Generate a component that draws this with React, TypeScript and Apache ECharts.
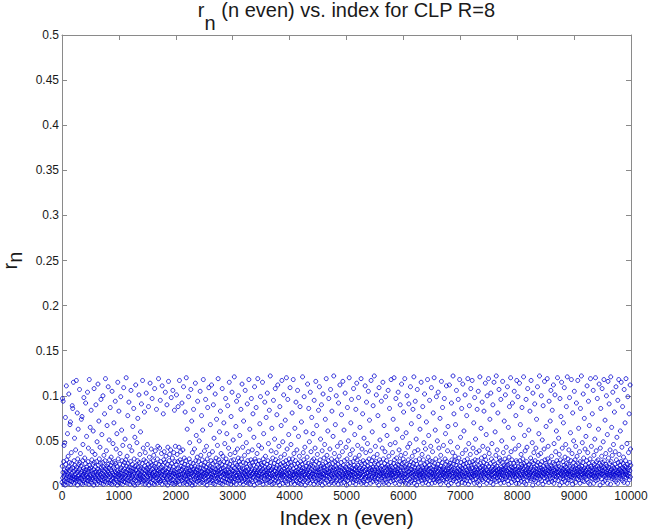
import React, { useEffect, useRef } from "react";
import * as echarts from "echarts";

// r_n values (in units of 0.001) for even indices n, step N_STEP, per 2000-wide segment
const N_STEP = 4;
const SEG_WIDTH = 2000;

const rSeg0 = [
  4, 22, 97, 9, 15, 94, 2, 27, 11, 45, 6, 18, 48, 13, 1, 76, 24, 8, 16, 111, 5, 29, 12, 19, 58,
  7, 14, 33, 3, 21, 102, 10, 17, 26, 6, 68, 12, 71, 2, 19, 9, 37, 25, 5, 14, 89, 11, 86, 20, 8,
  115, 3, 16, 28, 10, 53, 7, 23, 13, 4, 40, 18, 9, 117, 21, 6, 15, 81, 1, 30, 11, 63, 17, 8, 24,
  12, 5, 107, 19, 26, 9, 36, 14, 3, 22, 74, 8, 16, 77, 11, 2, 28, 46, 13, 20, 6, 98, 10, 17, 4,
  31, 15, 7, 25, 92, 12, 18, 3, 55, 21, 9, 14, 104, 6, 27, 10, 42, 16, 2, 19, 118, 8, 23, 13, 65,
  5, 20, 11, 84, 17, 3, 29, 7, 38, 14, 24, 9, 61, 12, 1, 18, 108, 26, 6, 15, 35, 10, 21, 4, 90,
  16, 8, 27, 13, 49, 2, 19, 11, 113, 6, 23, 15, 72, 9, 30, 4, 17, 43, 12, 25, 7, 96, 14, 20, 3,
  57, 10, 18, 6, 26, 100, 13, 2, 21, 34, 8, 16, 80, 11, 28, 5, 119, 19, 9, 14, 39, 22, 3, 67, 12,
  17, 7, 24, 110, 15, 4, 20, 51, 10, 29, 13, 3, 87, 18, 6, 23, 32, 11, 16, 2, 105, 26, 8, 14, 47,
  9, 21, 5, 70, 12, 19, 27, 3, 16, 94, 8, 25, 11, 41, 14, 6, 58, 22, 1, 17, 115, 10, 30, 13, 4,
  83, 15, 7, 24, 12, 36, 18, 3, 99, 9, 20, 14, 62, 6, 28, 11, 2, 45, 17, 23, 8, 109, 13, 5, 26,
  19, 10, 52, 4, 16, 29, 12, 120, 7, 22, 15, 33, 3, 18, 78, 9, 25, 13, 6, 93, 21, 11, 44, 2, 17,
  14, 27, 8, 106, 20, 5, 12, 39, 16, 24, 10, 66, 3, 19, 13, 86, 7, 30, 15, 1, 54, 22, 9, 18, 112,
  6, 17, 23, 11, 48, 14, 2, 28, 75, 9, 21, 15, 4, 101, 12, 26, 7, 35, 18, 10, 60, 13, 20, 5, 91,
  16, 8, 25, 3, 117, 11, 19, 42, 6, 14, 29, 9, 82, 22, 13, 2, 37, 17, 27, 7, 103, 12, 4, 20, 15,
  46, 10, 18, 6, 24, 88, 13, 1, 21, 32, 15, 8, 114, 11, 26, 4, 17, 41, 9, 23, 14, 97, 3, 19, 12,
  28, 7, 15, 34, 10, 22, 2, 108, 16, 12, 39, 5, 20, 25, 9, 85, 14, 18, 3, 30, 11, 44, 6, 17, 119,
  13, 24, 8, 19, 42, 4, 15, 95, 11, 27, 6, 21, 36, 13, 2, 111, 17, 9, 23, 16, 80, 7, 29, 12, 38,
  5, 18, 11, 26, 104, 14, 3, 33, 20, 8, 16, 90, 10, 24, 1, 43, 15, 7, 116, 19, 12, 28, 4, 35, 14,
  22, 9, 40, 16, 6, 98, 12, 25, 3, 18, 31, 11, 106, 7, 21, 14, 37, 2, 17, 84, 10, 27, 13, 44, 5,
];

const rSeg1 = [
  15, 3, 24, 101, 11, 19, 35, 7, 14, 27, 88, 5, 20, 12, 43, 9, 117, 16, 2, 29, 13, 38, 8, 22, 17,
  10, 26, 92, 6, 18, 13, 40, 3, 21, 110, 15, 9, 31, 12, 24, 4, 82, 17, 11, 28, 7, 120, 14, 19, 2,
  63, 16, 8, 23, 12, 5, 99, 20, 14, 30, 10, 48, 3, 17, 26, 9, 107, 13, 21, 6, 72, 15, 1, 37, 18,
  11, 25, 4, 85, 19, 13, 7, 41, 16, 22, 2, 114, 10, 28, 15, 56, 8, 18, 12, 32, 5, 94, 21, 14, 9,
  27, 17, 6, 50, 12, 3, 20, 105, 15, 9, 34, 24, 11, 78, 16, 4, 29, 13, 62, 7, 19, 118, 10, 23, 14,
  3, 39, 18, 12, 26, 8, 96, 15, 21, 5, 44, 13, 1, 30, 17, 87, 10, 24, 6, 16, 109, 11, 35, 19, 7,
  22, 13, 68, 4, 17, 28, 10, 112, 14, 6, 20, 38, 12, 25, 3, 90, 16, 9, 53, 19, 11, 27, 2, 102, 15,
  8, 18, 31, 12, 74, 5, 23, 14, 45, 9, 16, 119, 21, 7, 29, 13, 4, 60, 18, 26, 10, 83, 15, 3, 36,
  19, 11, 24, 6, 108, 16, 2, 33, 13, 20, 9, 70, 27, 14, 5, 47, 17, 22, 12, 97, 8, 30, 15, 4, 58,
  13, 26, 7, 89, 18, 11, 3, 42, 21, 15, 115, 6, 24, 12, 35, 9, 19, 2, 77, 28, 14, 8, 104, 17, 22,
  5, 16, 51, 10, 29, 13, 4, 121, 20, 8, 37, 15, 25, 11, 66, 2, 18, 94, 12, 23, 7, 41, 16, 9, 31,
  100, 14, 21, 6, 27, 12, 56, 18, 3, 24, 10, 85, 16, 30, 8, 13, 113, 5, 19, 43, 11, 26, 2, 72, 15,
  9, 20, 34, 14, 7, 106, 17, 12, 25, 4, 48, 21, 10, 16, 91, 6, 28, 13, 38, 3, 18, 118, 11, 24, 8,
  63, 15, 2, 22, 11, 29, 17, 97, 7, 19, 13, 40, 26, 5, 80, 14, 10, 23, 54, 16, 1, 110, 12, 30, 18,
  6, 27, 14, 87, 9, 21, 16, 36, 3, 12, 119, 24, 8, 18, 45, 11, 28, 15, 4, 69, 20, 13, 99, 7, 25,
  17, 10, 42, 5, 23, 13, 115, 19, 2, 30, 15, 58, 11, 26, 8, 16, 93, 21, 12, 33, 6, 18, 76, 14, 3,
  24, 12, 103, 16, 7, 28, 20, 47, 10, 14, 4, 84, 22, 17, 9, 122, 13, 26, 5, 39, 18, 11, 64, 2, 19,
  14, 31, 8, 21, 95, 12, 3, 25, 17, 52, 10, 16, 108, 6, 29, 13, 37, 20, 9, 79, 15, 23, 4, 112, 11,
  27, 5, 18, 44, 13, 20, 1, 88, 15, 9, 24, 32, 12, 67, 17, 7, 117, 14, 22, 10, 49, 3, 26, 16, 101,
  12, 19, 6, 35, 23, 11, 73, 16, 4, 28, 14, 120, 9, 21, 41, 13, 2, 96, 18, 25, 8, 57, 15, 30, 10,
];

const rSeg2 = [
  20, 7, 109, 14, 26, 11, 46, 3, 17, 23, 9, 81, 15, 30, 5, 12, 118, 19, 8, 36, 13, 24, 2, 64, 16,
  10, 28, 14, 93, 6, 21, 17, 40, 12, 4, 106, 25, 9, 15, 55, 19, 11, 3, 33, 22, 13, 88, 7, 27, 16,
  2, 18, 71, 11, 24, 14, 8, 121, 20, 5, 37, 16, 29, 12, 99, 7, 19, 43, 13, 1, 26, 10, 60, 17, 22,
  15, 9, 32, 4, 113, 18, 12, 25, 6, 86, 14, 21, 49, 10, 16, 3, 104, 23, 11, 38, 8, 19, 76, 13, 28,
  6, 22, 14, 58, 17, 10, 30, 2, 95, 13, 24, 8, 42, 16, 19, 116, 5, 27, 12, 67, 15, 9, 35, 20, 3,
  18, 12, 84, 7, 25, 15, 110, 11, 4, 29, 19, 52, 13, 22, 6, 90, 16, 10, 39, 1, 24, 14, 102, 8, 21,
  13, 31, 9, 17, 46, 20, 3, 74, 12, 26, 15, 119, 7, 18, 34, 11, 23, 5, 61, 14, 28, 16, 97, 10, 2,
  24, 16, 41, 8, 19, 107, 13, 21, 4, 30, 11, 83, 17, 6, 25, 14, 55, 9, 20, 122, 12, 3, 36, 18, 27,
  10, 68, 15, 22, 5, 100, 19, 13, 29, 7, 44, 16, 12, 24, 2, 92, 18, 11, 33, 14, 9, 112, 21, 6, 48,
  17, 26, 3, 79, 12, 20, 8, 38, 15, 116, 10, 23, 13, 4, 62, 18, 28, 9, 16, 103, 7, 21, 14, 43, 11,
  1, 19, 30, 13, 87, 6, 24, 15, 50, 11, 18, 9, 120, 22, 14, 3, 35, 26, 12, 70, 17, 8, 96, 20, 15,
  9, 40, 16, 12, 27, 4, 108, 19, 7, 23, 14, 57, 10, 31, 18, 2, 85, 13, 21, 6, 114, 16, 29, 11, 45,
  23, 14, 7, 98, 18, 11, 34, 5, 20, 65, 13, 26, 9, 17, 119, 3, 24, 15, 41, 10, 19, 80, 12, 28, 6,
  16, 4, 53, 21, 13, 25, 8, 111, 17, 10, 37, 19, 2, 93, 14, 27, 11, 47, 6, 22, 15, 105, 9, 18, 30,
  12, 73, 7, 20, 16, 39, 3, 24, 117, 14, 9, 28, 18, 60, 11, 5, 21, 89, 15, 32, 13, 8, 122, 19, 25,
  10, 17, 44, 6, 27, 13, 101, 21, 4, 15, 35, 12, 19, 78, 8, 24, 16, 1, 109, 11, 29, 14, 51, 20, 7,
  26, 13, 18, 94, 9, 22, 15, 42, 5, 17, 115, 11, 30, 14, 3, 67, 20, 10, 25, 38, 16, 7, 99, 12, 21,
  4, 28, 14, 56, 19, 11, 23, 8, 106, 16, 2, 33, 21, 13, 86, 9, 18, 46, 15, 26, 5, 118, 12, 22, 17,
  14, 9, 37, 20, 12, 74, 6, 25, 16, 120, 10, 29, 18, 3, 48, 14, 22, 97, 11, 7, 31, 17, 63, 13, 24,
  19, 15, 104, 8, 23, 13, 40, 2, 18, 27, 11, 90, 16, 5, 34, 21, 12, 113, 9, 25, 14, 54, 6, 20, 30,
];

const rSeg3 = [
  11, 82, 17, 5, 26, 14, 119, 9, 21, 36, 13, 3, 59, 18, 24, 10, 100, 15, 7, 43, 20, 12, 29, 2, 91,
  16, 23, 8, 47, 13, 19, 110, 4, 27, 14, 69, 11, 18, 6, 33, 22, 15, 85, 9, 25, 12, 121, 17, 3, 38,
  20, 7, 94, 14, 28, 10, 52, 16, 1, 24, 13, 107, 19, 8, 40, 15, 21, 5, 77, 12, 30, 17, 11, 63, 9,
  25, 13, 18, 115, 6, 22, 16, 35, 11, 3, 88, 20, 14, 29, 9, 48, 17, 12, 102, 7, 24, 15, 41, 4, 19,
  10, 71, 21, 14, 26, 8, 118, 17, 12, 32, 2, 56, 19, 23, 13, 95, 6, 28, 16, 11, 44, 20, 9, 109, 15,
  3, 27, 13, 38, 18, 10, 81, 22, 15, 7, 120, 12, 25, 17, 4, 62, 14, 30, 9, 19, 99, 11, 21, 6, 50,
  16, 24, 8, 104, 13, 20, 42, 5, 18, 28, 11, 75, 15, 2, 34, 22, 12, 116, 17, 9, 26, 14, 87, 7, 19,
  12, 45, 21, 15, 6, 97, 18, 10, 30, 13, 58, 24, 4, 17, 111, 11, 27, 14, 8, 39, 19, 66, 16, 1, 23,
  14, 9, 112, 20, 12, 25, 7, 49, 16, 22, 3, 92, 13, 29, 18, 10, 37, 15, 122, 6, 24, 11, 80, 17, 28,
  8, 19, 33, 14, 68, 11, 23, 5, 106, 16, 13, 27, 9, 43, 20, 2, 96, 15, 12, 31, 18, 7, 118, 22, 10,
  17, 54, 13, 26, 8, 20, 86, 15, 4, 36, 12, 113, 19, 10, 24, 16, 61, 7, 28, 14, 3, 101, 21, 11, 40,
  25, 14, 6, 78, 18, 12, 30, 9, 119, 16, 22, 2, 47, 13, 19, 89, 11, 26, 5, 35, 17, 108, 10, 23, 15,
  9, 20, 117, 13, 27, 7, 42, 16, 11, 70, 24, 14, 3, 98, 18, 29, 12, 52, 8, 21, 15, 37, 19, 4, 85,
  13, 28, 10, 18, 105, 6, 23, 15, 39, 12, 1, 121, 20, 9, 25, 16, 64, 11, 31, 17, 7, 93, 14, 22, 44,
  19, 5, 26, 12, 83, 16, 10, 33, 21, 14, 114, 8, 29, 13, 57, 18, 3, 24, 100, 11, 17, 41, 15, 6, 119,
  22, 11, 36, 17, 9, 74, 14, 25, 4, 103, 19, 12, 30, 16, 47, 8, 21, 13, 90, 2, 27, 18, 10, 115, 15,
  7, 24, 14, 60, 20, 11, 34, 17, 122, 5, 22, 13, 40, 9, 18, 81, 15, 26, 12, 6, 107, 19, 31, 10, 16,
  28, 13, 3, 96, 18, 21, 9, 50, 15, 12, 26, 116, 7, 19, 37, 14, 23, 4, 72, 17, 11, 30, 20, 101, 8,
  15, 22, 43, 10, 17, 27, 13, 110, 6, 24, 16, 65, 11, 2, 32, 19, 88, 14, 9, 25, 18, 120, 12, 38, 21,
  4, 17, 29, 14, 92, 11, 20, 8, 53, 16, 25, 13, 105, 6, 22, 18, 41, 10, 15, 78, 3, 28, 12, 117, 19,
];

const rSeg4 = [
  13, 26, 7, 99, 16, 21, 11, 45, 18, 3, 114, 14, 28, 9, 68, 20, 12, 35, 5, 24, 17, 87, 10, 22, 15,
  30, 8, 19, 121, 13, 25, 4, 56, 16, 11, 39, 22, 14, 2, 96, 18, 27, 10, 43, 15, 6, 108, 20, 12, 23,
  17, 62, 9, 24, 15, 12, 83, 19, 6, 31, 14, 117, 21, 8, 27, 16, 48, 11, 1, 103, 13, 25, 18, 37, 7,
  21, 14, 91, 10, 28, 16, 5, 42, 19, 13, 74, 23, 9, 15, 110, 12, 26, 3, 34, 18, 58, 11, 20, 122, 14,
  8, 24, 17, 36, 12, 20, 100, 6, 27, 15, 51, 11, 18, 2, 89, 14, 22, 13, 41, 9, 116, 19, 29, 16, 5,
  25, 12, 66, 18, 10, 23, 14, 119, 7, 30, 17, 44, 13, 21, 4, 94, 16, 11, 27, 19, 72, 8, 15, 106, 22,
  13, 33, 5, 20, 84, 16, 9, 26, 12, 112, 18, 3, 47, 14, 24, 11, 101, 17, 7, 38, 21, 15, 61, 10, 28,
  19, 16, 120, 12, 6, 25, 15, 53, 22, 11, 35, 17, 1, 97, 14, 29, 9, 77, 20, 13, 115, 16, 4, 42, 18,
  11, 27, 8, 70, 19, 14, 23, 109, 12, 5, 32, 17, 21, 46, 10, 15, 88, 25, 13, 3, 121, 18, 9, 30, 16,
  24, 14, 40, 7, 17, 98, 11, 22, 16, 59, 13, 28, 6, 118, 19, 10, 36, 15, 2, 81, 21, 12, 26, 50, 9,
  18, 105, 15, 11, 29, 20, 4, 44, 13, 23, 92, 16, 8, 33, 19, 14, 117, 12, 25, 7, 64, 17, 21, 10, 38,
  15, 3, 27, 86, 12, 19, 9, 122, 16, 22, 13, 48, 6, 26, 18, 102, 11, 31, 14, 5, 75, 20, 16, 41, 12,
  23, 10, 55, 17, 14, 28, 7, 111, 19, 12, 37, 21, 4, 94, 15, 25, 11, 67, 18, 2, 30, 13, 119, 22, 9,
  16, 44, 13, 20, 8, 80, 17, 26, 11, 106, 14, 3, 34, 19, 24, 12, 52, 15, 9, 120, 21, 6, 39, 18, 27,
  11, 14, 97, 22, 7, 29, 16, 63, 12, 19, 113, 10, 25, 15, 1, 42, 18, 86, 13, 23, 8, 33, 20, 108, 14,
  26, 17, 4, 49, 13, 21, 118, 11, 28, 15, 6, 73, 19, 12, 36, 24, 9, 100, 16, 22, 14, 57, 3, 18, 116,
  12, 31, 20, 9, 91, 15, 25, 13, 40, 17, 2, 121, 11, 27, 19, 65, 8, 14, 34, 22, 104, 16, 10, 46, 13,
  20, 7, 82, 16, 24, 12, 38, 18, 5, 110, 14, 29, 11, 54, 21, 15, 3, 95, 17, 26, 13, 118, 9, 35, 19,
  14, 23, 11, 61, 18, 8, 27, 115, 16, 13, 43, 20, 6, 88, 15, 25, 12, 32, 19, 4, 107, 17, 22, 10, 70,
  16, 28, 13, 119, 9, 21, 15, 47, 12, 24, 3, 99, 18, 11, 37, 20, 14, 80, 7, 26, 17, 112, 10, 41, 23,
];

const SEGMENTS = [rSeg0, rSeg1, rSeg2, rSeg3, rSeg4];

const X_MIN = 0;
const X_MAX = 10000;
const X_INTERVAL = 1000;
const Y_MIN = 0;
const Y_MAX = 0.5;
const Y_INTERVAL = 0.05;

const TITLE_MAIN = "r";
const TITLE_SUB = "n";
const TITLE_REST = " (n even) vs. index for CLP R=8";
const X_NAME = "Index n (even)";
const Y_NAME_MAIN = "r";
const Y_NAME_SUB = "n";

const FONT = "Liberation Sans, Arial, Helvetica, sans-serif";
const AXIS_COLOR = "#8a8a8a";
const LABEL_COLOR = "#1a1a1a";
const MARK_COLOR = "#0000d0";

export default function App() {
  const ref = useRef<HTMLDivElement>(null);

  useEffect(() => {
    document.body.style.margin = "0";
    if (!ref.current) return;
    const chart = echarts.init(ref.current, null, { renderer: "svg" });

    const data: number[][] = [];
    SEGMENTS.forEach((seg, s) => {
      seg.forEach((v, i) => {
        data.push([s * SEG_WIDTH + i * N_STEP, v / 1000]);
      });
    });

    const gridLeft = 62;
    const gridRight = 17;
    const gridTop = 35;
    const gridBottom = 45;
    const plotCenterX = gridLeft + (648 - gridLeft - gridRight) / 2;

    const baseX = {
      type: "value" as const,
      min: X_MIN,
      max: X_MAX,
      interval: X_INTERVAL,
      splitLine: { show: false },
      axisLine: { show: true, onZero: false, lineStyle: { color: AXIS_COLOR, width: 1 } },
      axisTick: { show: true, inside: true, length: 5, lineStyle: { color: AXIS_COLOR, width: 1 } },
    };
    const baseY = {
      type: "value" as const,
      min: Y_MIN,
      max: Y_MAX,
      interval: Y_INTERVAL,
      splitLine: { show: false },
      axisLine: { show: true, onZero: false, lineStyle: { color: AXIS_COLOR, width: 1 } },
      axisTick: { show: true, inside: true, length: 5, lineStyle: { color: AXIS_COLOR, width: 1 } },
    };

    chart.setOption({
      animation: false,
      backgroundColor: "#ffffff",
      grid: {
        left: gridLeft,
        right: gridRight,
        top: gridTop,
        bottom: gridBottom,
        containLabel: false,
        outerBoundsMode: "none",
      },
      xAxis: [
        {
          ...baseX,
          position: "bottom",
          axisLabel: {
            color: LABEL_COLOR,
            fontSize: 12,
            fontFamily: FONT,
            margin: 4,
            formatter: (v: number) => String(v),
          },
          name: X_NAME,
          nameLocation: "middle",
          nameGap: 18,
          nameTextStyle: { color: LABEL_COLOR, fontSize: 21, fontFamily: FONT },
        },
        {
          ...baseX,
          position: "top",
          axisLabel: { show: false },
        },
      ],
      yAxis: [
        {
          ...baseY,
          position: "left",
          axisLabel: {
            color: LABEL_COLOR,
            fontSize: 12,
            fontFamily: FONT,
            margin: 3,
            formatter: (v: number) => String(Math.round(v * 100) / 100),
          },
          name: "{m|" + Y_NAME_MAIN + "}{s|" + Y_NAME_SUB + "}",
          nameLocation: "middle",
          nameRotate: 90,
          nameGap: 31,
          nameTextStyle: {
            rich: {
              m: { fontSize: 20, fontFamily: FONT, color: LABEL_COLOR, lineHeight: 30, verticalAlign: "middle" },
              s: { fontSize: 20, fontFamily: FONT, color: LABEL_COLOR, lineHeight: 16, verticalAlign: "bottom" },
            },
          },
        },
        {
          ...baseY,
          position: "right",
          axisLabel: { show: false },
        },
      ],
      graphic: [
        {
          type: "text",
          x: plotCenterX,
          y: -12.7,
          silent: true,
          style: {
            text: "{m|" + TITLE_MAIN + "}{s|" + TITLE_SUB + "}{m|" + TITLE_REST + "}",
            align: "center",
            verticalAlign: "top",
            rich: {
              m: { fontSize: 20, fontFamily: FONT, fill: LABEL_COLOR, lineHeight: 46, verticalAlign: "middle" },
              s: { fontSize: 20, fontFamily: FONT, fill: LABEL_COLOR, lineHeight: 20, verticalAlign: "bottom" },
            },
          },
        },
      ],
      series: [
        {
          type: "scatter",
          xAxisIndex: 0,
          yAxisIndex: 0,
          data,
          symbol: "circle",
          symbolSize: 4,
          silent: true,
          progressive: 0,
          large: false,
          itemStyle: { color: "rgba(0,0,0,0)", borderColor: MARK_COLOR, borderWidth: 1 },
          emphasis: { disabled: true },
        },
      ],
    });

    return () => {
      chart.dispose();
    };
  }, []);

  return <div ref={ref} style={{ width: 648, height: 531 }} />;
}
